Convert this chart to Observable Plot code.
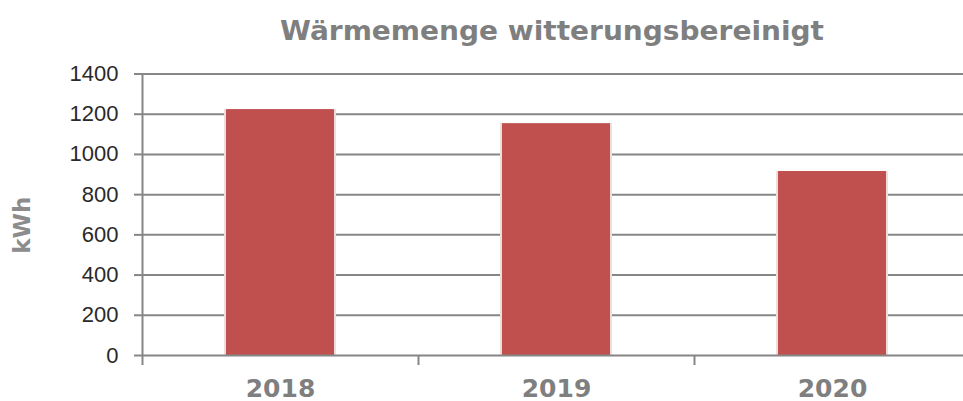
<!DOCTYPE html>
<html>
<head>
<meta charset="utf-8">
<script src="https://cdn.jsdelivr.net/npm/d3@7"></script>
<script src="https://cdn.jsdelivr.net/npm/@observablehq/plot@0.6"></script>
<style>
  html, body { margin: 0; padding: 0; background: #fff; }
  #wrap { position: relative; width: 963px; height: 401px; overflow: hidden; }
  #title { position: absolute; left: 0; top: 0; width: 963px; height: 50px; }
  #chart { position: absolute; left: 0; top: 50px; }
</style>
</head>
<body>
<div id="wrap">
  <svg id="title" width="963" height="50">
    <text x="552" y="40" text-anchor="middle" font-family="DejaVu Sans" font-weight="bold" font-size="27" textLength="544" lengthAdjust="spacingAndGlyphs" fill="#7f7f7f">Wärmemenge witterungsbereinigt</text>
  </svg>
  <div id="chart"></div>
</div>
<script>
const years = ["2018", "2019", "2020"];
const values = [1223, 1153, 915];
const yTicks = [0, 200, 400, 600, 800, 1000, 1200, 1400];
const yLabel = "kWh";

const data = years.map((year, i) => ({year, i, value: values[i]}));

const chart = Plot.plot({
  width: 963,
  height: 351,
  marginTop: 23.5,
  marginBottom: 46,
  marginLeft: 142,
  marginRight: 0,
  x: {type: "linear", domain: [0, years.length], range: [142, 970]},
  y: {domain: [0, 1400], range: [305, 23.5]},
  style: {background: "white"},
  marks: [
    Plot.ruleY(yTicks.filter(d => d > 0), {stroke: "#868686", strokeWidth: 2}),
    Plot.rectY(data, {x1: "i", x2: d => d.i + 1, y1: 0, y2: "value", insetLeft: 82, insetRight: 82, fill: "#ecdede"}),
    Plot.rectY(data, {x1: "i", x2: d => d.i + 1, y1: 0, y2: "value", insetLeft: 84, insetRight: 84, fill: "#c0504d"}),
    Plot.ruleY([0], {stroke: "#868686", strokeWidth: 2}),
    Plot.ruleX([0], {y1: 0, y2: 1400, stroke: "#868686", strokeWidth: 2}),
    Plot.axisX({ticks: d3.range(years.length + 1), tickFormat: () => "", tickSize: 10, stroke: "#868686", strokeWidth: 2, label: null}),
    Plot.axisY({ticks: yTicks, tickFormat: d => String(d), tickSize: 8, tickPadding: 16, fontSize: 22, fontFamily: "Liberation Sans", stroke: "#868686", strokeWidth: 2, fill: "#2a2a2a", label: null}),
    Plot.text(data, {x: d => d.i + 0.5, y: 0, text: "year", dy: 33, fontSize: 25, fontWeight: "bold", fontFamily: "DejaVu Sans", fill: "#7f7f7f"}),
    Plot.text([yLabel], {frameAnchor: "left", text: d => d, rotate: -90, dx: -120, dy: 39, fontSize: 23, fontWeight: "bold", fontFamily: "DejaVu Sans", fill: "#8c8c8c"})
  ]
});
document.getElementById("chart").appendChild(chart);
</script>
</body>
</html>
